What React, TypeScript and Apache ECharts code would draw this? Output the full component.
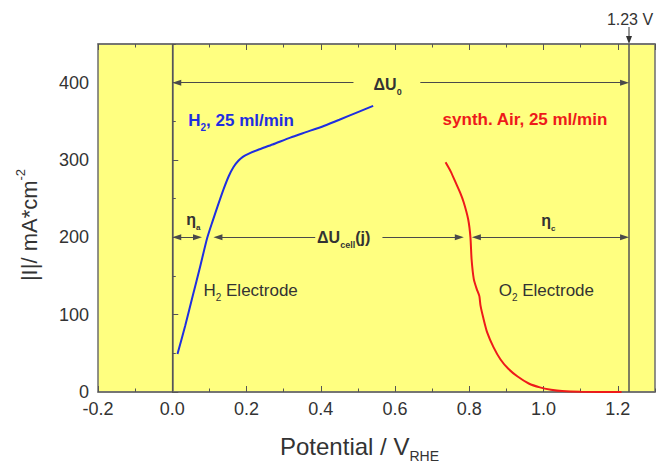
import React, { useEffect, useRef } from "react";
import * as echarts from "echarts";

// Potential (V vs RHE) and current density |I| (mA/cm^2)
const h2Potential = [0.014, 0.035, 0.055, 0.075, 0.094, 0.108, 0.122, 0.138, 0.152, 0.165, 0.178, 0.19, 0.205, 0.23, 0.27, 0.318, 0.36, 0.408, 0.45, 0.5, 0.541];
const h2Current = [49, 86, 124, 162, 199, 220, 240, 262, 279, 291, 299, 304, 308, 313, 320, 329, 336, 344, 352, 362, 370];

const airPotential = [0.736, 0.75, 0.763, 0.775, 0.785, 0.797, 0.803, 0.806, 0.812, 0.82, 0.827, 0.83, 0.838, 0.848, 0.865, 0.884, 0.905, 0.93, 0.96, 0.99, 1.02, 1.05, 1.1, 1.21];
const airCurrent = [297, 285, 271, 258, 245, 223, 200, 172, 146, 133, 124, 112, 95, 77, 58, 42, 30, 20, 11, 6, 3, 1.2, 0.3, 0];

const xMin = -0.2;
const xMax = 1.3;
const xMajor = 0.2;
const xMinor = 0.1;
const yMin = 0;
const yMax = 450;
const yMajor = 100;
const yMinor = 50;

const E0 = 1.23; // reversible cell voltage
const jLine = 200; // current density of the ΔUcell arrows
const u0Line = 400; // height of the ΔU0 arrow

const FONT = 'Arial, "Liberation Sans", Helvetica, sans-serif';
const AX = "#6e6e6e";
const TXT = "#333333";
const ARW = "#4a4a4a";
const BLUE = "#1f2ee0";
const RED = "#ee1a1a";

export default function App() {
  const ref = useRef<HTMLDivElement>(null);

  useEffect(() => {
    const chart = echarts.init(ref.current!, null, { renderer: "svg" });
    const inset = 0.012;
    const seg = (x1: number, y1: number, s1: string, x2: number, y2: number, s2: string) => [
      { coord: [x1, y1], symbol: s1 },
      { coord: [x2, y2], symbol: s2 },
    ];
    const T = "triangle";
    const N = "none";

    const xBase = { type: "value", min: xMin, max: xMax, splitLine: { show: false } };
    const yBase = { type: "value", min: yMin, max: yMax, splitLine: { show: false } };
    const tickStyle = { color: "#555", width: 1 };

    chart.setOption({
      animation: false,
      grid: {
        left: 98,
        right: 7,
        top: 44,
        bottom: 71,
        show: true,
        backgroundColor: "#ffff80",
        borderColor: AX,
        borderWidth: 1.5,
      },
      xAxis: [
        {
          ...xBase,
          position: "bottom",
          interval: xMajor,
          axisLine: { show: true, lineStyle: { color: AX, width: 1.5 } },
          axisTick: { show: true, inside: true, length: 6, lineStyle: tickStyle },
          axisLabel: {
            show: true,
            fontSize: 18,
            lineHeight: 14,
            fontFamily: FONT,
            color: TXT,
            margin: 10,
            showMaxLabel: false,
            formatter: (v: number) => v.toFixed(1),
          },
        },
        {
          ...xBase,
          position: "bottom",
          interval: xMinor,
          axisLine: { show: false },
          axisTick: { show: true, inside: true, length: 3.5, lineStyle: tickStyle },
          axisLabel: { show: false },
        },
        {
          ...xBase,
          position: "top",
          interval: xMajor,
          axisLine: { show: true, lineStyle: { color: AX, width: 1.5 } },
          axisTick: { show: true, inside: true, length: 6, lineStyle: tickStyle },
          axisLabel: { show: false },
        },
        {
          ...xBase,
          position: "top",
          interval: xMinor,
          axisLine: { show: false },
          axisTick: { show: true, inside: true, length: 3.5, lineStyle: tickStyle },
          axisLabel: { show: false },
        },
      ],
      yAxis: [
        {
          ...yBase,
          position: "left",
          interval: yMajor,
          axisLine: { show: true, lineStyle: { color: AX, width: 1.5 } },
          axisTick: { show: true, inside: true, length: 6, lineStyle: tickStyle },
          axisLabel: {
            show: true,
            fontSize: 18,
            lineHeight: 14,
            fontFamily: FONT,
            color: TXT,
            margin: 9,
            showMaxLabel: false,
          },
        },
        {
          ...yBase,
          position: "left",
          interval: yMinor,
          axisLine: { show: false },
          axisTick: { show: true, inside: true, length: 3.5, lineStyle: tickStyle },
          axisLabel: { show: false },
        },
      ],
      series: [
        {
          type: "line",
          name: "H2, 25 ml/min",
          xAxisIndex: 0,
          yAxisIndex: 0,
          data: h2Potential.map((x, i) => [x, h2Current[i]]),
          showSymbol: false,
          symbol: "none",
          smooth: 0.2,
          lineStyle: { color: BLUE, width: 2 },
          itemStyle: { color: BLUE },
          z: 5,
          markLine: {
            silent: true,
            symbol: "none",
            symbolSize: [6, 9],
            label: { show: false },
            lineStyle: { color: ARW, width: 1, type: "solid" },
            data: [
              { xAxis: 0, symbol: N, lineStyle: { color: "#555", width: 1.2 } },
              { xAxis: E0, symbol: N, lineStyle: { color: "#555", width: 1.5 } },
              seg(0 + inset, u0Line, T, 0.488, u0Line, N),
              seg(0.668, u0Line, N, E0 - inset, u0Line, T),
              seg(0 + inset, jLine, T, 0.08 - inset, jLine, T),
              seg(0.111 + inset, jLine, T, 0.385, jLine, N),
              seg(0.566, jLine, N, 0.785 - inset, jLine, T),
              seg(0.807 + inset, jLine, T, E0 - inset, jLine, T),
            ],
          },
        },
        {
          type: "line",
          name: "synth. Air, 25 ml/min",
          xAxisIndex: 0,
          yAxisIndex: 0,
          data: airPotential.map((x, i) => [x, airCurrent[i]]),
          showSymbol: false,
          symbol: "none",
          smooth: 0.2,
          lineStyle: { color: RED, width: 2 },
          itemStyle: { color: RED },
          z: 5,
        },
      ],
    });

    const px = (x: number, y: number) => chart.convertToPixel({ seriesIndex: 0 }, [x, y]) as number[];

    const rich = (color: string, size: number, weight: string, subSize: number, lh: number) => ({
      m: { fontSize: size, fontWeight: weight, fontFamily: FONT, fill: color, color, lineHeight: lh },
      s: {
        fontSize: subSize,
        fontWeight: weight,
        fontFamily: FONT,
        fill: color,
        color,
        verticalAlign: "bottom",
        lineHeight: subSize + 2,
      },
      p: {
        fontSize: subSize,
        fontWeight: weight,
        fontFamily: FONT,
        fill: color,
        color,
        verticalAlign: "top",
        lineHeight: subSize + 2,
      },
    });

    const label = (
      pos: number[],
      text: string,
      r: any,
      align: string = "left",
      extra: any = {}
    ) => ({
      type: "text",
      x: pos[0],
      y: pos[1],
      z: 20,
      silent: true,
      ...extra,
      style: { text, rich: r, align, verticalAlign: "middle" },
    });

    const e0x = px(E0, 0)[0];
    const richDark = rich(TXT, 16, "bold", 9, 24);

    chart.setOption({
      graphic: [
        label(px(0.58, 398), "{m|ΔU}{s|0}", richDark, "center"),
        label(px(0.043, 351), "{m|H}{s|2}{m|, 25 ml/min}", rich(BLUE, 17, "bold", 10, 24)),
        label(px(0.728, 353), "{m|synth. Air, 25 ml/min}", rich(RED, 17, "bold", 10, 24)),
        label(px(0.057, 223), "{m|η}{s|a}", rich(TXT, 16, "bold", 8, 24), "center"),
        label(px(0.39, 200), "{m|ΔU}{s|cell}{m|(j)}", richDark),
        label(px(1.013, 222), "{m|η}{s|c}", rich(TXT, 16, "bold", 8, 24), "center"),
        label(px(0.084, 131), "{m|H}{s|2}{m| Electrode}", rich(TXT, 17, "normal", 10, 24)),
        label(px(0.879, 131), "{m|O}{s|2}{m| Electrode}", rich(TXT, 17, "normal", 10, 24)),
        label([e0x + 1, 19], "{m|1.23 V}", rich(TXT, 16, "normal", 10, 20), "center"),
        {
          type: "line",
          silent: true,
          shape: { x1: e0x, y1: 27, x2: e0x, y2: 38 },
          style: { stroke: TXT, lineWidth: 1 },
        },
        {
          type: "polygon",
          silent: true,
          shape: { points: [[e0x - 3, 36], [e0x + 3, 36], [e0x, 44]] },
          style: { fill: TXT },
        },
        label([280, 446], "{m|Potential / V}{s|RHE}", rich(TXT, 24, "normal", 14, 34)),
        label([29, 225], "{m||I|/ mA*cm}{p|-2}", rich(TXT, 22, "normal", 13, 30), "center", {
          rotation: Math.PI / 2,
        }),
      ],
    });

    return () => chart.dispose();
  }, []);

  return (
    <div
      ref={ref}
      style={{ position: "absolute", left: 0, top: 0, width: 662, height: 463, background: "#ffffff" }}
    />
  );
}
